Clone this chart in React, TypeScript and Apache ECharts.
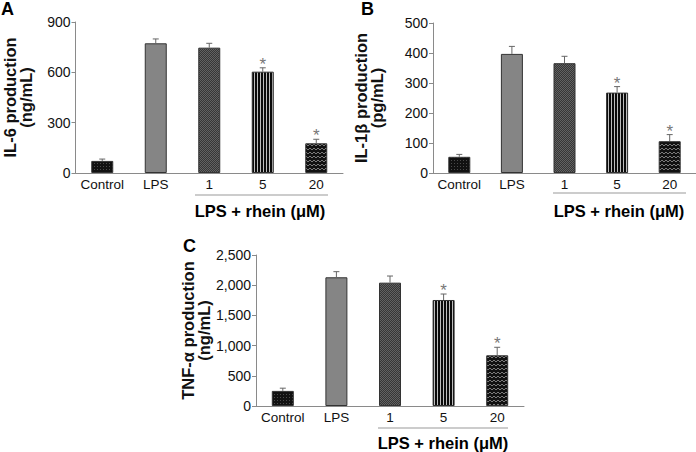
import React, { useEffect, useRef } from "react";
import * as echarts from "echarts";

const categories = ["Control", "LPS", "1", "5", "20"];
const il6Mean = [72, 773, 747, 604, 177];
const il6Err = [11, 26, 26, 23, 24];
const il1bMean = [54, 397, 366, 268, 106];
const il1bErr = [8, 25, 23, 20, 22];
const tnfMean = [250, 2131, 2042, 1755, 839];
const tnfErr = [45, 93, 110, 99, 133];
const significant = [0, 0, 0, 1, 1];

const il6Ticks = { min: 0, max: 900, interval: 300 };
const il1bTicks = { min: 0, max: 500, interval: 100 };
const tnfTicks = { min: 0, max: 2500, interval: 500 };

const FONT = "'Liberation Sans', Arial, Helvetica, sans-serif";

function makePattern(w: number, h: number, draw: (ctx: CanvasRenderingContext2D) => void) {
  const c = document.createElement("canvas");
  c.width = w;
  c.height = h;
  const ctx = c.getContext("2d") as CanvasRenderingContext2D;
  draw(ctx);
  return { image: c, repeat: "repeat", imageWidth: w, imageHeight: h } as any;
}

function buildPatterns() {
  const control = makePattern(3, 3, (ctx) => {
    ctx.fillStyle = "#111111";
    ctx.fillRect(0, 0, 3, 3);
    ctx.fillStyle = "#4a4a4a";
    ctx.fillRect(1, 1, 1, 1);
  });
  const checker = makePattern(2, 2, (ctx) => {
    ctx.fillStyle = "#363636";
    ctx.fillRect(0, 0, 2, 2);
    ctx.fillStyle = "#626262";
    ctx.fillRect(0, 0, 1, 1);
    ctx.fillRect(1, 1, 1, 1);
  });
  const vstripe = makePattern(3, 3, (ctx) => {
    ctx.fillStyle = "#0a0a0a";
    ctx.fillRect(0, 0, 3, 3);
    ctx.fillStyle = "#bdbdbd";
    ctx.fillRect(2, 0, 1, 3);
  });
  const wave = makePattern(4, 4, (ctx) => {
    ctx.fillStyle = "#111111";
    ctx.fillRect(0, 0, 4, 4);
    ctx.fillStyle = "#7a7a7a";
    ctx.fillRect(1, 0, 2, 1);
    ctx.fillRect(0, 1, 1, 1);
    ctx.fillRect(3, 1, 1, 1);
  });
  return [control, "#858585", checker, vstripe, wave];
}

export default function App() {
  const ref = useRef<HTMLDivElement>(null);
  useEffect(() => {
    if (!ref.current) return;
    const chart = echarts.init(ref.current, undefined, { renderer: "svg" });
    const fills = buildPatterns();

    const grids = [
      { left: 74, top: 22, width: 269, height: 151 },
      { left: 433, top: 23, width: 270, height: 150 },
      { left: 256, top: 255, width: 268, height: 151 },
    ];
    const ticks = [il6Ticks, il1bTicks, tnfTicks];
    const names = ["IL-6 production\n(ng/mL)", "IL-1β production\n(pg/mL)", "TNF-α production\n(ng/mL)"];
    const nameGaps = [42, 48, 44];
    const means = [il6Mean, il1bMean, tnfMean];
    const errs = [il6Err, il1bErr, tnfErr];

    const xAxis = grids.map((_, i) => ({
      type: "category",
      gridIndex: i,
      data: categories,
      axisLine: { lineStyle: { color: "#8a8a8a", width: 1 } },
      axisTick: { show: false },
      axisLabel: { color: "#111", fontSize: 13.5, fontFamily: FONT, margin: 4, interval: 0 },
    }));
    const yAxis = grids.map((_, i) => ({
      type: "value",
      gridIndex: i,
      min: ticks[i].min,
      max: ticks[i].max,
      interval: ticks[i].interval,
      name: names[i],
      nameLocation: "middle",
      nameRotate: 90,
      nameGap: nameGaps[i],
      nameTextStyle: { color: "#111", fontSize: 16.5, fontWeight: "bold", fontFamily: FONT, lineHeight: 16 },
      splitLine: { show: false },
      axisLine: { show: true, lineStyle: { color: "#8a8a8a", width: 1 } },
      axisTick: { show: true, length: 4, lineStyle: { color: "#8a8a8a" } },
      axisLabel: {
        color: "#111",
        fontSize: 14,
        fontFamily: FONT,
        margin: 5,
        formatter: (v: number) => v.toLocaleString("en-US"),
      },
    }));

    const series: any[] = [];
    grids.forEach((_, i) => {
      series.push({
        type: "bar",
        xAxisIndex: i,
        yAxisIndex: i,
        barWidth: 22,
        data: means[i].map((v, k) => ({
          value: v,
          itemStyle: { color: fills[k], borderColor: "#333", borderWidth: 1 },
        })),
      });
      series.push({
        type: "custom",
        xAxisIndex: i,
        yAxisIndex: i,
        z: 5,
        data: means[i].map((v, k) => [k, v, v + errs[i][k], significant[k]]),
        encode: { x: 0, y: [1, 2] },
        renderItem: (params: any, api: any) => {
          const x = api.value(0);
          const m = api.value(1);
          const u = api.value(2);
          const sig = api.value(3);
          const p0 = api.coord([x, m]);
          const p1 = api.coord([x, u]);
          const children: any[] = [
            {
              type: "line",
              shape: { x1: p0[0], y1: p0[1], x2: p1[0], y2: p1[1] },
              style: { stroke: "#666", lineWidth: 1 },
            },
            {
              type: "line",
              shape: { x1: p1[0] - 3, y1: p1[1], x2: p1[0] + 3, y2: p1[1] },
              style: { stroke: "#666", lineWidth: 1 },
            },
          ];
          if (sig) {
            children.push({
              type: "text",
              x: p1[0],
              y: p1[1] + 5,
              style: {
                text: "*",
                fill: "#777",
                font: `17px ${FONT}`,
                textAlign: "center",
                textVerticalAlign: "bottom",
              },
            });
          }
          return { type: "group", children };
        },
      });
    });

    const letter = (t: string, x: number, y: number) => ({
      type: "text",
      left: x,
      top: y,
      style: { text: t, fill: "#000", font: `bold 18px ${FONT}` },
    });
    const group = (x1: number, x2: number, ly: number, cx: number, ty: number) => [
      {
        type: "line",
        shape: { x1, y1: ly, x2, y2: ly },
        style: { stroke: "#999", lineWidth: 1 },
      },
      {
        type: "text",
        x: cx,
        y: ty,
        style: {
          text: "LPS + rhein (μM)",
          fill: "#000",
          font: `bold 16.5px ${FONT}`,
          textAlign: "center",
          textVerticalAlign: "middle",
        },
      },
    ];

    chart.setOption({
      animation: false,
      backgroundColor: "#fff",
      grid: grids,
      xAxis,
      yAxis,
      series,
      graphic: [
        letter("A", 1, 0),
        letter("B", 361, 0),
        letter("C", 183, 237),
        ...group(195, 328, 195, 260, 211),
        ...group(553, 686, 193, 619, 211),
        ...group(378, 508, 428, 443, 443),
      ],
    });
    return () => chart.dispose();
  }, []);
  return (
    <div
      ref={ref}
      style={{ position: "fixed", left: 0, top: 0, width: 696, height: 452, background: "#fff" }}
    />
  );
}
